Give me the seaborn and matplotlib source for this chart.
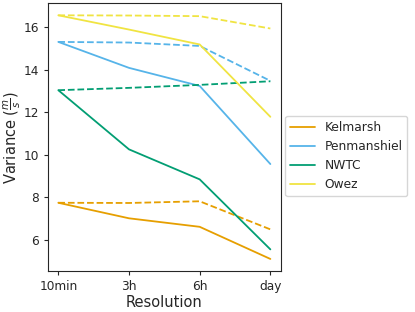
import matplotlib
matplotlib.use('Agg')
import matplotlib.pyplot as plt
import pandas as pd
import seaborn as sns

# Data
resolutions = ['10min', '3h', '6h', 'day']
datasets = ['Kelmarsh', 'Penmanshiel', 'NWTC', 'Owez']
solid = {
    'Kelmarsh': [7.75, 7.02, 6.62, 5.11],
    'Penmanshiel': [15.31, 14.09, 13.24, 9.57],
    'NWTC': [13.04, 10.26, 8.85, 5.56],
    'Owez': [16.56, 15.89, 15.19, 11.79],
}
dashed = {
    'Kelmarsh': [7.75, 7.74, 7.82, 6.50],
    'Penmanshiel': [15.31, 15.28, 15.12, 13.48],
    'NWTC': [13.04, 13.15, 13.29, 13.46],
    'Owez': [16.56, 16.55, 16.52, 15.94],
}

cb = sns.color_palette('colorblind')
colors = {'Kelmarsh': '#E69F00', 'Penmanshiel': cb[9], 'NWTC': cb[2], 'Owez': '#F0E442'}

rows = []
for name in datasets:
    for r, v in zip(resolutions, solid[name]):
        rows.append({'dataset': name, 'resolution': r, 'value': v, 'kind': 'solid'})
    for r, v in zip(resolutions, dashed[name]):
        rows.append({'dataset': name, 'resolution': r, 'value': v, 'kind': 'dashed'})
df = pd.DataFrame(rows)

sns.set_style('ticks')
plt.rcParams['font.family'] = ['DejaVu Sans']

fig = plt.figure(figsize=(4.15, 3.12), dpi=100)
ax = fig.add_axes([0.115, 0.131, 0.562, 0.859])

for name in datasets:
    sub = df[df['dataset'] == name]
    sns.lineplot(data=sub[sub['kind'] == 'solid'], x='resolution', y='value',
                 color=colors[name], lw=1.3, ax=ax, label=name)
    sns.lineplot(data=sub[sub['kind'] == 'dashed'], x='resolution', y='value',
                 color=colors[name], lw=1.3, ls='--', ax=ax)

ax.set_xlabel('Resolution', fontsize=10.5, labelpad=1)
ax.set_ylabel(r'Variance ($\frac{m}{s}$)', fontsize=10.5, labelpad=0)
ax.tick_params(labelsize=8.7, length=3, width=0.8)
ax.set_yticks([6, 8, 10, 12, 14, 16])
ax.get_legend().remove()

handles, labels = ax.get_legend_handles_labels()
fig.legend(handles, labels, loc='center left', bbox_to_anchor=(0.673, 0.5),
           fontsize=8.8, frameon=True, handlelength=2.0)

fig.savefig('out.png', dpi=100)
